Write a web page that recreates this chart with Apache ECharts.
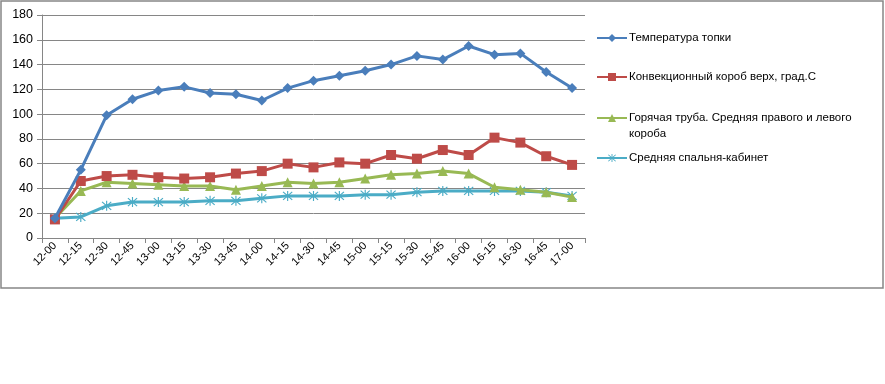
<!DOCTYPE html>
<html><head><meta charset="utf-8">
<script src="https://cdn.jsdelivr.net/npm/echarts@6/dist/echarts.min.js"></script>
<style>html,body{margin:0;padding:0;background:#fff}#c{width:885px;height:384px}</style>
</head><body><div id="c"></div>
<script>
const categories = ['12-00','12-15','12-30','12-45','13-00','13-15','13-30','13-45','14-00','14-15','14-30','14-45','15-00','15-15','15-30','15-45','16-00','16-15','16-30','16-45','17-00'];
const names = ['Температура топки','Конвекционный короб верх, град.С','Горячая труба. Средняя правого и левого короба','Средняя спальня-кабинет'];
const legendLines = [['Температура топки'],['Конвекционный короб верх, град.С'],['Горячая труба. Средняя правого и левого','короба'],['Средняя спальня-кабинет']];
const furnace = [16,55,99,112,119,122,117,116,111,121,127,131,135,140,147,144,155,148,149,134,121];
const convection = [15,46,50,51,49,48,49,52,54,60,57,61,60,67,64,71,67,81,77,66,59];
const hotPipe = [16,38,45,44,43,42,42,39,42,45,44,45,48,51,52,54,52,41,39,37,33];
const bedroom = [16,17,26,29,29,29,30,30,32,34,34,34,35,35,37,38,38,38,38,37,34];
const yTicks = {min:0, max:180, interval:20};

const colors = ['#4A7EBB','#BE4B48','#98B954','#4BACC6'];
const asterisk = 'path://M9,0L11,0L11,20L9,20Z M2.7,1.3L18.7,17.3L17.3,18.7L1.3,2.7Z M17.3,1.3L18.7,2.7L2.7,18.7L1.3,17.3Z';
const symbols = ['diamond','rect','triangle',asterisk];
const symbolSizes = [10,10,10,10];
const data = [furnace, convection, hotPipe, bedroom];
const font = 'Liberation Sans';

const chart = echarts.init(document.getElementById('c'), null, {renderer:'canvas'});
const legendTops = [30, 69, 110, 150];
const extraText = [];
legendLines.forEach((lines,i)=>{
  lines.slice(1).forEach((t,k)=>{
    extraText.push({type:'text', left:629, top:legendTops[i]+16*(k+1)+2,
      style:{text:t, fill:'#000', font:'11.5px "'+font+'"'}, silent:true});
  });
});
chart.setOption({
  animation:false,
  backgroundColor:'#fff',
  color: colors,
  grid:{left:42, top:15, right:300, bottom:146, containLabel:false},
  legend: names.map((n,i)=>({
    data:[n], left:596, top:legendTops[i], orient:'vertical',
    itemWidth:30, itemHeight:10, itemGap:0, padding:0,
    textStyle:{color:'#000', fontFamily:font, fontSize:11.5, lineHeight:16, padding:[0,0,0,-3]},
    formatter: ()=>legendLines[i][0]
  })),
  xAxis:{
    type:'category', data:categories, boundaryGap:true,
    axisLine:{lineStyle:{color:'#868686', width:1}},
    axisTick:{show:true, length:5, lineStyle:{color:'#868686'}, interval:0},
    axisLabel:{rotate:45, interval:0, color:'#000', fontFamily:font, fontSize:11, margin:6}
  },
  yAxis:{
    type:'value', min:yTicks.min, max:yTicks.max, interval:yTicks.interval,
    axisLine:{show:true, lineStyle:{color:'#868686', width:1}},
    axisTick:{show:true, length:5, lineStyle:{color:'#868686'}},
    splitLine:{lineStyle:{color:'#868686', width:1}},
    axisLabel:{color:'#000', fontFamily:font, fontSize:12.5, margin:9}
  },
  series: names.map((n,i)=>({
    name:n, type:'line', data:data[i], symbol:symbols[i], symbolSize:symbolSizes[i],
    lineStyle:{width:3, color:colors[i]}, itemStyle:{color:colors[i]}, z: 10-i
  })),
  graphic:[{type:'rect', shape:{x:1, y:1, width:882, height:287}, style:{fill:null, stroke:'#868686', lineWidth:1.5}, silent:true, z:100}].concat(extraText)
});
</script></body></html>
